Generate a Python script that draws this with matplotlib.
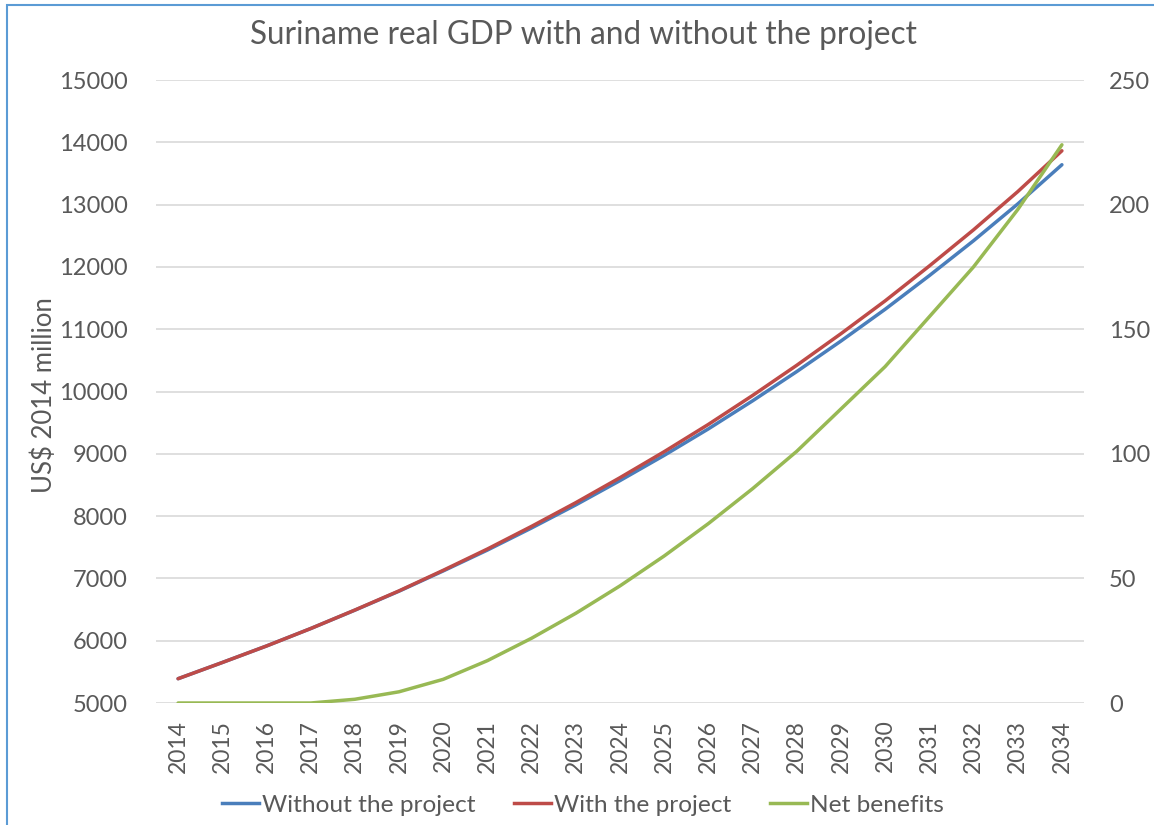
import matplotlib
matplotlib.use("Agg")
import matplotlib.pyplot as plt
from matplotlib.patches import Rectangle
from matplotlib.lines import Line2D

years = [str(y) for y in range(2014, 2035)]
without_project = [5390, 5650, 5915, 6195, 6490, 6795, 7120, 7455, 7810, 8180, 8570,
                   8975, 9400, 9850, 10320, 10810, 11320, 11860, 12420, 13010, 13640]
net_benefits = [0, 0, 0, 0, 1.5, 4.5, 9.5, 17, 26, 36, 47, 59, 72, 86, 101, 118, 135,
                155, 175, 198, 224]
with_project = [5390, 5650, 5915, 6195, 6492, 6800, 7130, 7472, 7836, 8216, 8617,
                9034, 9472, 9936, 10421, 10928, 11455, 12015, 12595, 13208, 13864]
left_ticks = [5000, 6000, 7000, 8000, 9000, 10000, 11000, 12000, 13000, 14000, 15000]
right_ticks = [0, 50, 100, 150, 200, 250]

FONT = ["Lato", "DejaVu Sans"]
TXT = "#595959"
BLUE = "#4A7EBB"
RED = "#BE4B48"
GREEN = "#98B954"
GRID = "#D9D9D9"

fig = plt.figure(figsize=(11.54, 8.25), dpi=100)
fig.patches.append(Rectangle((7/1154, -0.05), 1.2, 1 - 5/825 + 0.05,
                             transform=fig.transFigure, fill=False,
                             edgecolor="#5B9BD5", linewidth=1.5))

ax = fig.add_axes([156/1154, 1 - 703/825, (1084-156)/1154, (703-80)/825])
ax2 = ax.twinx()
x = list(range(len(years)))

ax.plot(x, without_project, color=BLUE, lw=2.5, solid_capstyle="round", zorder=3)
ax.plot(x, with_project, color=RED, lw=2.5, solid_capstyle="round", zorder=3)
ax2.plot(x, net_benefits, color=GREEN, lw=2.5, solid_capstyle="round", zorder=3)

ax.set_xlim(-0.5, len(years) - 0.5)
ax.set_ylim(5000, 15000)
ax2.set_ylim(0, 250)
ax.set_yticks(left_ticks)
ax2.set_yticks(right_ticks)
ax.set_xticks(x)
ax.set_xticklabels(years, rotation=90, fontsize=16.5, color=TXT, family=FONT)
ax.set_yticklabels([str(v) for v in left_ticks], fontsize=17, color=TXT, family=FONT)
ax2.set_yticklabels([str(v) for v in right_ticks], fontsize=17, color=TXT, family=FONT)
ax.grid(axis="y", color=GRID, lw=1.2)
ax.set_axisbelow(True)
for a in (ax, ax2):
    for s in a.spines.values():
        s.set_visible(False)
ax.tick_params(axis="y", length=0, pad=20.5)
ax.tick_params(axis="x", length=0, pad=12)
ax2.tick_params(axis="y", length=0, pad=18)

fig.text(44/1154, 1 - 395/825, "US$ 2014 million", rotation=90, ha="center",
         va="center", fontsize=18.5, color=TXT, family=FONT)
fig.text(583/1154, 1 - 35/825, "Suriname real GDP with and without the project",
         ha="center", va="center", fontsize=22.7, color=TXT, family=FONT)

handles = [Line2D([], [], color=BLUE, lw=2.5),
           Line2D([], [], color=RED, lw=2.5),
           Line2D([], [], color=GREEN, lw=2.5)]
leg = fig.legend(handles, ["Without the project", "With the project", "Net benefits"],
                 loc="center", bbox_to_anchor=(583/1154, 1 - 805/825), ncol=3,
                 frameon=False, handlelength=1.5, handletextpad=0.12, columnspacing=1.6,
                 prop={"family": FONT, "size": 17.6})
for t in leg.get_texts():
    t.set_color(TXT)

fig.savefig("out.png", dpi=100)
